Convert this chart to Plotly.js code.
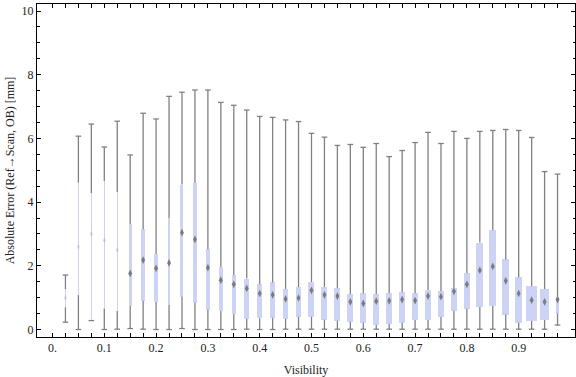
<!DOCTYPE html>
<html>
<head>
<meta charset="utf-8">
<script src="https://cdn.plot.ly/plotly-3.0.1.min.js"></script>
<style>html,body{margin:0;padding:0;background:#fff;}#chart{width:576px;height:377px;}</style>
</head>
<body>
<div id="chart"></div>
<script>
// ---- data ----
const visibility = [0.025,0.05,0.075,0.1,0.125,0.15,0.175,0.2,0.225,0.25,0.275,0.3,0.325,0.35,0.375,0.4,0.425,0.45,0.475,0.5,0.525,0.55,0.575,0.6,0.625,0.65,0.675,0.7,0.725,0.75,0.775,0.8,0.825,0.85,0.875,0.9,0.925,0.95,0.975];
const whiskerHigh = [1.71,6.07,6.45,5.73,6.54,5.48,6.79,6.61,7.32,7.45,7.52,7.52,7.13,7.04,6.89,6.69,6.66,6.58,6.53,6.16,6.04,5.78,5.81,5.72,5.84,5.43,5.62,5.87,6.19,5.84,6.22,6.00,6.22,6.25,6.28,6.25,6.03,4.96,4.88];
const upperQuartile = [1.27,4.61,4.29,4.66,4.32,3.31,3.15,2.37,3.50,4.55,4.60,2.52,1.96,1.70,1.60,1.42,1.48,1.27,1.33,1.49,1.33,1.30,1.11,1.14,1.11,1.14,1.17,1.14,1.24,1.20,1.30,1.77,2.73,3.12,2.20,1.64,1.36,1.27,1.03];
const medianVal = [0.99,2.6,3.0,2.8,2.5,1.76,2.18,1.92,2.09,3.04,2.83,1.94,1.55,1.42,1.29,1.13,1.09,0.96,0.99,1.23,1.09,1.05,0.87,0.82,0.89,0.90,0.94,0.91,1.05,1.03,1.20,1.42,1.86,1.98,1.53,1.13,0.92,0.87,0.94];
const lowerQuartile = [0.70,1.08,0.30,0.66,0.58,0.74,0.90,0.86,0.77,1.03,0.84,0.62,0.58,0.49,0.34,0.35,0.37,0.34,0.40,0.40,0.31,0.28,0.24,0.21,0.15,0.18,0.21,0.30,0.30,0.40,0.59,0.65,0.71,0.74,0.47,0.21,0.27,0.30,0.50];
const whiskerLow = [0.23,0.0,0.28,0.0,0.01,0.03,0.01,0.0,0.0,0.03,0.0,0.0,0.0,0.0,0.01,0.0,0.0,0.01,0.01,0.01,0.01,0.01,0.01,0.01,0.01,0.01,0.01,0.01,0.01,0.01,0.01,0.01,0.01,0.01,0.01,0.01,0.01,0.01,0.14];
const xTickVals = [0,0.025,0.05,0.075,0.1,0.125,0.15,0.175,0.2,0.225,0.25,0.275,0.3,0.325,0.35,0.375,0.4,0.425,0.45,0.475,0.5,0.525,0.55,0.575,0.6,0.625,0.65,0.675,0.7,0.725,0.75,0.775,0.8,0.825,0.85,0.875,0.9,0.925,0.95,0.975];
const xTickText = ['0.','','','','0.1','','','','0.2','','','','0.3','','','','0.4','','','','0.5','','','','0.6','','','','0.7','','','','0.8','','','','0.9','','',''];
const yTickVals = [0,2,4,6,8,10];
const yTickText = ['0','2','4','6','8','10'];

// ---- style ----
const boxWidthPx = [1,1,1,1,1,2.7,3.3,3.3,2.7,3,4.3,4.3,3.7,4.3,5,5,5,5.3,5.3,6,6,6,6,6,6,6,6,6,6,6,6,6,7,7,7,7,11,9,2.7];
const pxPerUnitX = 518;
const whiskerColor = '#808080';
const boxColor = '#ccd3f5';
const font = {family: '"Liberation Serif", "Times New Roman", serif', size: 12, color: '#222'};

// whisker segments (outside the box)
const wx = [], wy = [];
visibility.forEach((v, i) => {
  wx.push(v, v, null, v, v, null);
  wy.push(whiskerLow[i], lowerQuartile[i], null, upperQuartile[i], whiskerHigh[i], null);
});
const capX = visibility.concat(visibility);
const capY = whiskerLow.concat(whiskerHigh);

const traces = [
  {type: 'bar', x: visibility, base: lowerQuartile,
   y: upperQuartile.map((q, i) => q - lowerQuartile[i]),
   width: boxWidthPx.map(p => p / pxPerUnitX),
   marker: {color: boxColor, line: {width: 0}}, hoverinfo: 'skip'},
  {type: 'scatter', mode: 'lines', x: wx, y: wy,
   line: {color: whiskerColor, width: 1.3}, hoverinfo: 'skip'},
  {type: 'scatter', mode: 'markers', x: capX, y: capY,
   marker: {symbol: 'line-ew', size: 4, line: {color: whiskerColor, width: 1.3}}, hoverinfo: 'skip'},
  {type: 'scatter', mode: 'markers', x: visibility, y: medianVal,
   marker: {symbol: 'diamond-tall', color: '#767676',
            size: boxWidthPx.map(w => w < 2 ? 4 : 5.5),
            opacity: boxWidthPx.map(w => w < 2 ? 0.25 : 0.95),
            line: {width: 0}}, hoverinfo: 'skip'}
];

const layout = {
  width: 576, height: 377,
  margin: {l: 37, r: 1, t: 4, b: 40},
  paper_bgcolor: '#fff', plot_bgcolor: '#fff',
  showlegend: false,
  bargap: 0,
  font: font,
  xaxis: {
    range: [-0.0299, 1.0087], tickmode: 'array', tickvals: xTickVals, ticktext: xTickText,
    ticks: 'inside', ticklen: 4, tickwidth: 1, tickcolor: '#000',
    showline: true, linecolor: '#000', linewidth: 1, mirror: 'ticks',
    showgrid: false, zeroline: false, tickfont: font, automargin: false,
    title: {text: 'Visibility', font: font, standoff: 11}
  },
  yaxis: {
    range: [-0.235, 10.22], tickmode: 'array', tickvals: yTickVals, ticktext: yTickText,
    ticks: 'inside', ticklen: 4, tickwidth: 1, tickcolor: '#000',
    minor: {tick0: 0, dtick: 0.5, ticks: 'inside', ticklen: 2.5, tickwidth: 1, tickcolor: '#000', showgrid: false},
    showline: true, linecolor: '#000', linewidth: 1, mirror: 'ticks',
    showgrid: false, zeroline: false, tickfont: font, automargin: false,
    title: {text: 'Absolute Error (Ref\u2192Scan, OB) [mm]', font: font, standoff: 4}
  }
};

Plotly.newPlot('chart', traces, layout, {staticPlot: true, displayModeBar: false});
</script>
</body>
</html>
